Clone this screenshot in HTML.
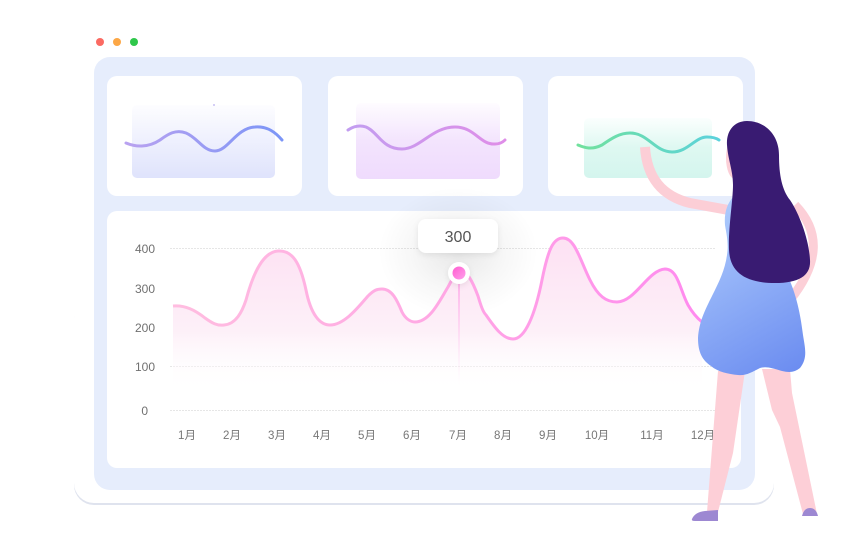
<!DOCTYPE html>
<html><head><meta charset="utf-8"><style>
html,body{margin:0;padding:0;background:#fff;}
svg{display:block;}
text{font-family:"Liberation Sans","Noto Sans CJK SC",sans-serif;}
</style></head><body>
<svg width="845" height="533" viewBox="0 0 845 533" xmlns="http://www.w3.org/2000/svg">
<defs>
<linearGradient id="g1" x1="0" y1="0" x2="0" y2="1"><stop offset="0" stop-color="#fdfdff"/><stop offset="1" stop-color="#dfe3fc"/></linearGradient>
<linearGradient id="g2" x1="0" y1="0" x2="0" y2="1"><stop offset="0" stop-color="#fefcff"/><stop offset="0.5" stop-color="#f3e4fd"/><stop offset="1" stop-color="#efdbfd"/></linearGradient>
<linearGradient id="g3" x1="0" y1="0" x2="0" y2="1"><stop offset="0" stop-color="#fbfffe"/><stop offset="0.5" stop-color="#def8f1"/><stop offset="1" stop-color="#d4f5ee"/></linearGradient>
<linearGradient id="w1" x1="0" y1="0" x2="1" y2="0"><stop offset="0" stop-color="#b9a2f0"/><stop offset="1" stop-color="#7b95f7"/></linearGradient>
<linearGradient id="w2" x1="0" y1="0" x2="1" y2="0"><stop offset="0" stop-color="#c29df0"/><stop offset="1" stop-color="#df8ee8"/></linearGradient>
<linearGradient id="w3" x1="0" y1="0" x2="1" y2="0"><stop offset="0" stop-color="#71e19d"/><stop offset="1" stop-color="#5bd2dc"/></linearGradient>
<linearGradient id="fill" gradientUnits="userSpaceOnUse" x1="0" y1="240" x2="0" y2="392"><stop offset="0" stop-color="#fde1f3"/><stop offset="0.6" stop-color="#fdf0f8"/><stop offset="1" stop-color="#ffffff" stop-opacity="0"/></linearGradient>
<linearGradient id="line" gradientUnits="userSpaceOnUse" x1="173" y1="0" x2="700" y2="0"><stop offset="0" stop-color="#ffbde0"/><stop offset="0.5" stop-color="#ffa8e4"/><stop offset="1" stop-color="#ff8aef"/></linearGradient>
<linearGradient id="vl" x1="0" y1="0" x2="0" y2="1"><stop offset="0" stop-color="#ff9fe6"/><stop offset="1" stop-color="#ffd6f2" stop-opacity="0"/></linearGradient>
<linearGradient id="dot" x1="0" y1="0" x2="1" y2="1"><stop offset="0" stop-color="#ff5ccf"/><stop offset="1" stop-color="#ffa0ec"/></linearGradient>
<radialGradient id="glow" cx="0.5" cy="0.5" r="0.5"><stop offset="0" stop-color="#000" stop-opacity="0.09"/><stop offset="0.6" stop-color="#000" stop-opacity="0.03"/><stop offset="1" stop-color="#000" stop-opacity="0"/></radialGradient>
<linearGradient id="dress" gradientUnits="userSpaceOnUse" x1="715" y1="215" x2="805" y2="372"><stop offset="0" stop-color="#abc9fc"/><stop offset="1" stop-color="#6a8bf0"/></linearGradient>
<filter id="sh" x="-20%" y="-20%" width="140%" height="160%"><feDropShadow dx="0" dy="2" stdDeviation="3" flood-color="#000" flood-opacity="0.08"/></filter>
</defs>

<!-- traffic lights -->
<circle cx="100" cy="42" r="4" fill="#fb6a62"/>
<circle cx="117" cy="42" r="4" fill="#fca746"/>
<circle cx="134" cy="42" r="4" fill="#2fc74b"/>

<!-- base -->
<rect x="74" y="300" width="700" height="205" rx="20" fill="#dfe3ee"/>
<rect x="74" y="298" width="700" height="205" rx="20" fill="#ffffff"/>

<!-- blue panel -->
<rect x="94" y="57" width="661" height="433" rx="16" fill="#e6edfc"/>

<!-- top cards -->
<rect x="107" y="76" width="195" height="120" rx="10" fill="#fff"/>
<rect x="328" y="76" width="195" height="120" rx="10" fill="#fff"/>
<rect x="548" y="76" width="195" height="120" rx="10" fill="#fff"/>

<rect x="132" y="105" width="143" height="73" rx="5" fill="url(#g1)"/>
<rect x="356" y="103" width="144" height="76" rx="5" fill="url(#g2)"/>
<rect x="584" y="118" width="128" height="60" rx="5" fill="url(#g3)"/>
<circle cx="214" cy="105" r="1" fill="#c8c0f4"/>

<path d="M126,143 C135,147 148,148 160,140 C168,134 176,129 186,133 C198,138 203,151 215,151 C228,151 236,128 255,127 C268,126 276,133 282,140" fill="none" stroke="url(#w1)" stroke-width="3" stroke-linecap="round"/>
<path d="M348,130 C354,126 360,125 366,127 C378,132 382,149 402,149 C420,149 432,127 455,127 C475,127 480,145 495,144 C500,144 503,142 505,140" fill="none" stroke="url(#w2)" stroke-width="3" stroke-linecap="round"/>
<path d="M578,145 C585,148 592,150 602,145 C612,138 620,133 630,133 C648,133 655,152 672,152 C688,152 695,137 707,137 C713,137 716,138 719,140" fill="none" stroke="url(#w3)" stroke-width="3" stroke-linecap="round"/>

<!-- big card -->
<rect x="107" y="211" width="634" height="257" rx="10" fill="#fff"/>

<!-- grid -->
<g stroke="#e6e6e6" stroke-width="1" stroke-dasharray="2,1">
<line x1="170" y1="248.5" x2="715" y2="248.5"/>
<line x1="170" y1="366.5" x2="715" y2="366.5"/>
<line x1="170" y1="410.5" x2="715" y2="410.5"/>
</g>

<!-- y labels -->
<g font-size="12" fill="#707070" text-anchor="end">
<text x="155" y="253">400</text>
<text x="155" y="293">300</text>
<text x="155" y="332">200</text>
<text x="155" y="371">100</text>
<text x="148" y="415">0</text>
</g>
<!-- x labels -->
<g font-size="11.5" fill="#777" text-anchor="middle">
<text x="187" y="439">1月</text>
<text x="232" y="439">2月</text>
<text x="277" y="439">3月</text>
<text x="322" y="439">4月</text>
<text x="367" y="439">5月</text>
<text x="412" y="439">6月</text>
<text x="458" y="439">7月</text>
<text x="503" y="439">8月</text>
<text x="548" y="439">9月</text>
<text x="597" y="439">10月</text>
<text x="652" y="439">11月</text>
<text x="703" y="439">12月</text>
</g>

<!-- glow -->
<ellipse cx="458" cy="252" rx="80" ry="65" fill="url(#glow)"/>

<!-- area -->
<path d="M173,306 C185,305 195,310 205,318 C212,323 217,326 224,325 C236,324 242,312 246,300 C254,270 264,252 278,251 C292,250 300,262 306,290 C311,315 320,325 330,325 C345,325 360,305 368,296 C374,290 377,289 382,289 C392,289 397,300 402,312 C405,318 410,322 415,322 C430,322 440,300 448,287 C452,280 455,272 460,271 C467,271 472,280 478,296 C481,306 483,312 486,315 C495,328 503,339 513,339 C525,339 535,315 542,280 C548,250 553,238 563,238 C575,238 580,260 590,280 C598,296 606,302 617,302 C635,302 648,270 665,269 C678,269 680,290 688,305 C692,312 697,318 702,322 L702,392 L173,392 Z" fill="url(#fill)"/>
<path d="M173,306 C185,305 195,310 205,318 C212,323 217,326 224,325 C236,324 242,312 246,300 C254,270 264,252 278,251 C292,250 300,262 306,290 C311,315 320,325 330,325 C345,325 360,305 368,296 C374,290 377,289 382,289 C392,289 397,300 402,312 C405,318 410,322 415,322 C430,322 440,300 448,287 C452,280 455,272 460,271 C467,271 472,280 478,296 C481,306 483,312 486,315 C495,328 503,339 513,339 C525,339 535,315 542,280 C548,250 553,238 563,238 C575,238 580,260 590,280 C598,296 606,302 617,302 C635,302 648,270 665,269 C678,269 680,290 688,305 C692,312 697,318 702,322" fill="none" stroke="url(#line)" stroke-width="3"/>

<!-- marker -->
<rect x="458.3" y="283" width="1.4" height="102" fill="url(#vl)"/>
<circle cx="459" cy="273" r="11" fill="#fff" filter="url(#sh)"/>
<circle cx="459" cy="273" r="6.5" fill="url(#dot)"/>

<!-- tooltip -->
<rect x="418" y="219" width="80" height="34" rx="8" fill="#fff" filter="url(#sh)"/>
<text x="458" y="242" font-size="16" fill="#555" text-anchor="middle">300</text>

<!-- woman -->
<path d="M795,205 Q834,245 790,300" fill="none" stroke="#fccfd7" stroke-width="9"/>
<path d="M718,371 L745,371 L733,453 L718,512 L707,512 Z" fill="#fdcfd7"/>
<path d="M762,369 L790,369 L792,393 L817,514 L803,514 L780,427 L772,410 Z" fill="#fdcfd7"/>
<path d="M692,519 Q695,512 705,511 L718,510 L718,521 L695,521 Q691,521 692,519 Z" fill="#9d88d2"/>
<path d="M802,516 Q804,508 810,508 Q816,508 818,516 Z" fill="#9d88d2"/>
<path d="M645,147 C647,178 662,196 690,203 L734,211" fill="none" stroke="#fcced6" stroke-width="10"/>
<path d="M733,197 L750,194 L785,270 C795,290 800,310 803,335 C805,348 808,358 800,368 C795,372 790,373 782,371 C772,368 766,366 760,368 C752,372 746,376 738,375 C728,374 718,372 711,366 C702,360 698,352 698,338 C699,322 705,310 712,296 C719,282 725,270 727,255 C729,243 726,232 725,225 C724,213 727,204 733,197 Z" fill="url(#dress)"/>
<ellipse cx="735" cy="158" rx="9" ry="21" fill="#fccfd7"/>
<path d="M747,121 C735,121 726,130 727,145 C728,160 733,170 733,185 C733,200 728,230 729,250 C730,272 745,283 775,283 C800,283 811,275 810,260 C809,240 800,215 790,200 C782,190 779,175 779,155 C779,135 765,121 747,121 Z" fill="#391b72"/>
</svg>
</body></html>
